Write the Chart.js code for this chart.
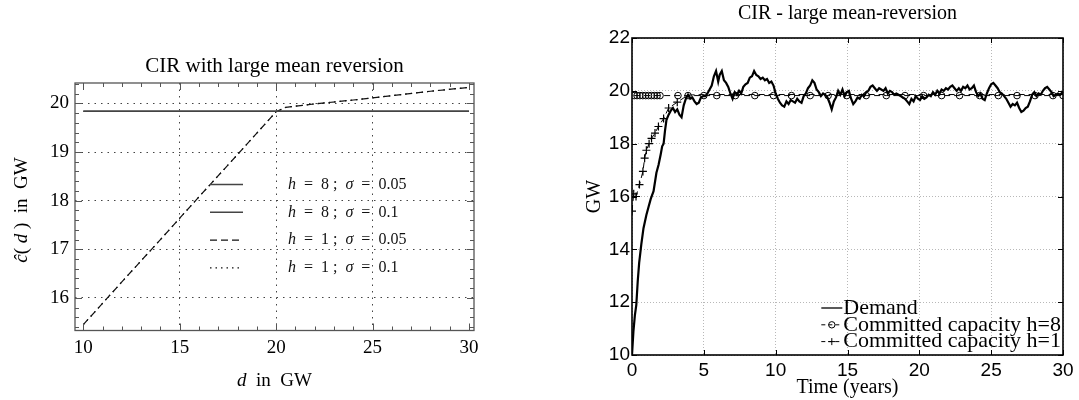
<!DOCTYPE html>
<html>
<head>
<meta charset="utf-8">
<script src="https://cdn.jsdelivr.net/npm/chart.js@4.4.0/dist/chart.umd.min.js"></script>
<style>
  body { margin: 0; background: #fff; }
  #left { position: absolute; left: 0; top: 0; width: 540px; height: 400px; }
  #right { position: absolute; left: 540px; top: 0; width: 539px; height: 400px; }
</style>
</head>
<body>
<div id="left"><canvas id="c1"></canvas></div>
<div id="right"><canvas id="c2"></canvas></div>
<script>
// ---- left panel: capacity rule c(d) ----
var dValues   = [10, 12, 14, 16, 18, 19, 20, 20.5, 22, 24, 26, 28, 30];
var cH8s005   = [19.84, 19.84, 19.84, 19.84, 19.84, 19.84, 19.84, 19.84, 19.84, 19.84, 19.84, 19.84, 19.84];
var cH8s01    = [19.84, 19.84, 19.84, 19.84, 19.84, 19.84, 19.84, 19.84, 19.84, 19.84, 19.84, 19.84, 19.84];
var cH1s005   = [15.45, 16.33, 17.2, 18.08, 18.95, 19.39, 19.83, 19.92, 19.99, 20.07, 20.16, 20.25, 20.33];
var cH1s01    = [15.45, 16.33, 17.2, 18.08, 18.95, 19.39, 19.83, 19.92, 19.99, 20.07, 20.16, 20.25, 20.33];
var leftLabels = ['h  =  8 ;  σ  =  0.05', 'h  =  8 ;  σ  =  0.1', 'h  =  1 ;  σ  =  0.05', 'h  =  1 ;  σ  =  0.1'];
var leftXTicks = [10, 15, 20, 25, 30];
var leftYTicks = [16, 17, 18, 19, 20];

// ---- right panel: simulated path ----
var demandT = [0, 0.1, 0.2, 0.3, 0.4, 0.5, 0.65, 0.8, 1.0, 1.15, 1.3, 1.5, 1.7, 1.85, 2.0, 2.1, 2.2, 2.3, 2.4, 2.55,
  2.7, 2.85, 3.0, 3.15, 3.3, 3.45, 3.6, 3.75, 3.9, 4.05, 4.2, 4.35, 4.5, 4.65, 4.8, 4.95, 5.1, 5.25, 5.4, 5.55,
  5.7, 5.85, 6.0, 6.1, 6.25, 6.4, 6.55, 6.7, 6.85, 7.0, 7.15, 7.3, 7.45, 7.6, 7.75, 7.9, 8.05, 8.2, 8.35, 8.5,
  8.65, 8.8, 8.95, 9.1, 9.25, 9.4, 9.55, 9.7, 9.85, 10.0, 10.15, 10.3, 10.45, 10.6, 10.75, 10.9, 11.05, 11.2, 11.35, 11.5,
  11.65, 11.8, 11.95, 12.1, 12.25, 12.4, 12.55, 12.7, 12.85, 13.0, 13.15, 13.3, 13.45, 13.6, 13.75, 13.9, 14.05, 14.2, 14.35, 14.5,
  14.65, 14.8, 14.95, 15.1, 15.25, 15.4, 15.55, 15.7, 15.85, 16.0, 16.15, 16.3, 16.45, 16.6, 16.75, 16.9, 17.05, 17.2, 17.35, 17.5,
  17.65, 17.8, 17.95, 18.1, 18.25, 18.4, 18.55, 18.7, 18.85, 19.0, 19.15, 19.3, 19.45, 19.6, 19.75, 19.9, 20.05, 20.2, 20.35, 20.5,
  20.65, 20.8, 20.95, 21.1, 21.25, 21.4, 21.55, 21.7, 21.85, 22.0, 22.15, 22.3, 22.45, 22.6, 22.75, 22.9, 23.05, 23.2, 23.35, 23.5,
  23.65, 23.8, 23.95, 24.1, 24.25, 24.4, 24.55, 24.7, 24.85, 25.0, 25.15, 25.3, 25.45, 25.6, 25.75, 25.9, 26.05, 26.2, 26.35, 26.5,
  26.65, 26.8, 26.95, 27.1, 27.25, 27.4, 27.55, 27.7, 27.85, 28.0, 28.15, 28.3, 28.45, 28.6, 28.75, 28.9, 29.05, 29.2, 29.35, 29.5,
  29.65, 29.8, 30.0];
var demandGW = [10.0, 10.9, 11.5, 11.9, 12.8, 13.5, 14.2, 14.8, 15.3, 15.6, 15.9, 16.2, 16.9, 17.2, 17.6, 17.9, 18.0, 18.5, 18.9, 19.1,
  19.25, 19.35, 19.2, 19.3, 19.1, 19.0, 19.45, 19.7, 19.85, 19.7, 19.75, 19.6, 19.5, 19.55, 19.75, 19.8, 19.8, 19.9, 20.05, 20.2,
  20.55, 20.75, 20.35, 20.6, 20.75, 20.4, 20.3, 20.15, 19.9, 19.7, 19.95, 19.85, 20.0, 19.9, 20.15, 20.25, 20.3, 20.5, 20.55, 20.75,
  20.6, 20.55, 20.45, 20.5, 20.4, 20.45, 20.3, 20.35, 20.2, 19.9, 19.7, 19.55, 19.45, 19.4, 19.6, 19.5, 19.65, 19.6, 19.55, 19.7,
  19.6, 19.55, 19.8, 19.9, 20.1, 20.2, 20.4, 20.3, 20.05, 19.95, 19.8, 19.9, 19.85, 19.75, 19.55, 19.3, 19.6, 19.75, 20.0, 19.85,
  20.05, 19.8, 19.95, 20.0, 19.7, 19.5, 19.6, 19.75, 19.7, 19.85, 19.8, 19.95, 20.0, 20.15, 20.2, 20.1, 20.0, 20.1, 20.05, 20.0,
  20.1, 19.9, 20.0, 19.95, 19.85, 19.9, 19.85, 19.8, 19.75, 19.7, 19.6, 19.5, 19.7, 19.6, 19.8, 19.7, 19.65, 19.8, 19.7, 19.75,
  19.85, 19.8, 19.95, 19.85, 20.0, 19.9, 20.05, 20.0, 20.1, 20.05, 20.15, 20.2, 20.1, 20.0, 20.1, 20.0, 20.15, 20.1, 20.2, 20.05,
  20.1, 20.2, 19.95, 19.8, 19.9, 19.7, 19.65, 19.9, 20.1, 20.25, 20.3, 20.2, 20.1, 19.95, 19.9, 19.8, 19.7, 19.55, 19.4, 19.5,
  19.45, 19.55, 19.35, 19.2, 19.25, 19.35, 19.4, 19.6, 19.85, 19.95, 19.8, 19.9, 19.85, 20.0, 20.1, 20.15, 20.05, 19.95, 19.8, 19.85,
  19.9, 19.85, 19.95];
var capH8T  = [0.15, 0.35, 0.55, 0.75, 0.95, 1.15, 1.35, 1.55, 1.75, 1.95, 3.2, 3.9, 5.0, 5.9, 7.2, 8.55, 9.85, 11.1, 12.4, 13.65,
  14.95, 16.3, 17.7, 19.0, 20.3, 21.55, 22.8, 24.2, 25.5, 26.8, 28.05, 29.3, 30.0];
var capH8GW = [19.82, 19.82, 19.82, 19.82, 19.82, 19.82, 19.82, 19.82, 19.82, 19.82, 19.82, 19.82, 19.82, 19.82, 19.82, 19.82, 19.82, 19.82, 19.82, 19.82,
  19.82, 19.82, 19.82, 19.82, 19.82, 19.82, 19.82, 19.82, 19.82, 19.82, 19.82, 19.82, 19.82];
var capH1T  = [0, 0.12, 0.28, 0.52, 0.76, 0.88, 1.0, 1.19, 1.36, 1.6, 1.84, 2.2, 2.55, 3.15, 3.9, 5.0, 7.2, 9.85, 12.4, 14.95,
  17.7, 20.3, 22.8, 25.5, 28.05, 30.0];
var capH1GW = [15.45, 16.1, 16.0, 16.45, 16.95, 17.45, 17.75, 18.0, 18.2, 18.4, 18.65, 18.95, 19.35, 19.57, 19.84, 19.86, 19.86, 19.86, 19.86, 19.86,
  19.86, 19.86, 19.86, 19.86, 19.86, 19.86];
var capH1Marked = 14;
var rightLabels = ['Demand', 'Committed capacity h=8', 'Committed capacity h=1'];
var rightXTicks = [0, 5, 10, 15, 20, 25, 30];
var rightYTicks = [10, 12, 14, 16, 18, 20, 22];

function pairs(xs, ys) {
  return xs.map(function (x, i) { return { x: x, y: ys[i] }; });
}

function tickMarks(chart, axis, values, len, color) {
  var a = chart.chartArea, ctx = chart.ctx, s = chart.scales[axis];
  ctx.save();
  ctx.strokeStyle = color;
  ctx.lineWidth = 1;
  ctx.beginPath();
  values.forEach(function (v) {
    var p = Math.round(s.getPixelForValue(v)) + 0.5;
    if (axis === 'x') {
      ctx.moveTo(p, a.bottom); ctx.lineTo(p, a.bottom - len);
      ctx.moveTo(p, a.top); ctx.lineTo(p, a.top + len);
    } else {
      ctx.moveTo(a.left, p); ctx.lineTo(a.left + len, p);
      ctx.moveTo(a.right, p); ctx.lineTo(a.right - len, p);
    }
  });
  ctx.stroke();
  ctx.restore();
}

// text with italic symbols (h, σ, d, ĉ)
function drawMixed(ctx, text, italicChars, size, x, y, align) {
  var parts = [];
  for (var i = 0; i < text.length; i++) {
    var it = italicChars.indexOf(text[i]) >= 0;
    if (parts.length && parts[parts.length - 1].it === it) parts[parts.length - 1].t += text[i];
    else parts.push({ t: text[i], it: it });
  }
  var total = 0;
  parts.forEach(function (p) {
    ctx.font = (p.it ? 'italic ' : '') + size + 'px "Liberation Serif"';
    p.w = ctx.measureText(p.t).width;
    total += p.w;
  });
  var cx = align === 'center' ? x - total / 2 : x;
  ctx.textBaseline = 'middle';
  ctx.textAlign = 'left';
  parts.forEach(function (p) {
    ctx.font = (p.it ? 'italic ' : '') + size + 'px "Liberation Serif"';
    ctx.fillText(p.t, cx, y);
    cx += p.w;
  });
}

var leftDecor = {
  id: 'leftDecor',
  afterDatasetsDraw: function (chart) {
    var ctx = chart.ctx, a = chart.chartArea;
    var minorX = [], minorY = [];
    for (var v = 10; v <= 30; v += 1) if (v % 5) minorX.push(v);
    for (var k = 77; k <= 102; k++) if (k % 5) minorY.push(k / 5);
    tickMarks(chart, 'x', leftXTicks, 7, '#555');
    tickMarks(chart, 'x', minorX, 4, '#555');
    tickMarks(chart, 'y', leftYTicks, 7, '#555');
    tickMarks(chart, 'y', minorY, 4, '#555');
    ctx.save();
    ctx.strokeStyle = '#555';
    ctx.lineWidth = 1.3;
    ctx.strokeRect(a.left, a.top, a.right - a.left, a.bottom - a.top);
    // legend inside the plot
    ctx.fillStyle = '#111';
    chart.data.datasets.forEach(function (ds, i) {
      var y = 184.5 + i * 27.8;
      ctx.strokeStyle = ds.borderColor;
      ctx.lineWidth = ds.borderWidth;
      ctx.setLineDash(ds.borderDash || []);
      ctx.beginPath(); ctx.moveTo(210, y); ctx.lineTo(243, y); ctx.stroke();
      ctx.setLineDash([]);
      drawMixed(ctx, leftLabels[i], 'hσ', 16, 288, y, 'left');
    });
    // axis titles
    ctx.fillStyle = '#000';
    drawMixed(ctx, 'd  in  GW', 'd', 19, (a.left + a.right) / 2, 381, 'center');
    ctx.translate(22, 210);
    ctx.rotate(-Math.PI / 2);
    drawMixed(ctx, 'ĉ( d )  in  GW', 'ĉd', 19, 0, 0, 'center');
    ctx.restore();
  }
};

new Chart(document.getElementById('c1'), {
  type: 'line',
  data: {
    datasets: [
      { data: pairs(dValues, cH8s005), borderColor: '#444', borderWidth: 1.6, pointRadius: 0 },
      { data: pairs(dValues, cH8s01), borderColor: '#444', borderWidth: 1.6, pointRadius: 0 },
      { data: pairs(dValues, cH1s005), borderColor: '#111', borderWidth: 1.2, borderDash: [7, 4], pointRadius: 0 },
      { data: pairs(dValues, cH1s01), borderColor: '#111', borderWidth: 1.2, borderDash: [1.5, 4], pointRadius: 0 }
    ]
  },
  options: {
    responsive: true,
    maintainAspectRatio: false,
    animation: false,
    layout: { padding: { left: 0, right: 66, top: 0, bottom: 0 } },
    plugins: {
      legend: { display: false },
      tooltip: { enabled: false },
      title: {
        display: true,
        fullSize: false,
        text: 'CIR with large mean reversion',
        color: '#000',
        font: { family: 'Liberation Serif', size: 21, weight: 'normal' },
        padding: { top: 53.4, bottom: 4.4 }
      }
    },
    scales: {
      x: {
        type: 'linear', min: 9.57, max: 30.26,
        afterBuildTicks: function (s) { s.ticks = leftXTicks.map(function (v) { return { value: v }; }); },
        afterFit: function (s) { s.height = 69.5; },
        ticks: { color: '#000', padding: 6, maxRotation: 0, font: { family: 'Liberation Serif', size: 19 } },
        grid: {
          drawTicks: false,
          color: function (c) { return (c.tick && (c.tick.value === 10 || c.tick.value === 30)) ? 'rgba(0,0,0,0)' : '#444'; }
        },
        border: { display: false, dash: [1.5, 5] }
      },
      y: {
        type: 'linear', min: 15.33, max: 20.42,
        afterBuildTicks: function (s) { s.ticks = leftYTicks.map(function (v) { return { value: v }; }); },
        afterFit: function (s) { s.width = 75; },
        ticks: { color: '#000', padding: 6, font: { family: 'Liberation Serif', size: 19 } },
        grid: { drawTicks: false, color: '#444' },
        border: { display: false, dash: [1.5, 5] }
      }
    }
  },
  plugins: [leftDecor]
});

var rightDecor = {
  id: 'rightDecor',
  afterDatasetsDraw: function (chart) {
    var ctx = chart.ctx, a = chart.chartArea;
    tickMarks(chart, 'x', rightXTicks, 5, '#000');
    tickMarks(chart, 'y', rightYTicks, 5, '#000');
    ctx.save();
    ctx.strokeStyle = '#000';
    ctx.lineWidth = 1.6;
    ctx.strokeRect(a.left, a.top, a.right - a.left, a.bottom - a.top);
    // legend, bottom right
    ctx.font = '22px "Liberation Serif"';
    var tw = 0;
    rightLabels.forEach(function (t) { tw = Math.max(tw, ctx.measureText(t).width); });
    var tx = a.right - tw - 2, sx0 = tx - 22, sx1 = tx - 1;
    chart.data.datasets.forEach(function (ds, i) {
      var y = 308 + i * 16.8;
      ctx.strokeStyle = '#000';
      ctx.lineWidth = ds.borderWidth > 1.5 ? 1.3 : 1;
      ctx.setLineDash(ds.borderDash ? [4, 3] : []);
      ctx.beginPath(); ctx.moveTo(sx0, y); ctx.lineTo(sx1, y); ctx.stroke();
      ctx.setLineDash([]);
      var mx = (sx0 + sx1) / 2;
      if (ds.pointStyle === 'circle') {
        ctx.beginPath(); ctx.arc(mx, y, 3.2, 0, Math.PI * 2); ctx.stroke();
      } else if (ds.pointStyle === 'cross') {
        ctx.beginPath(); ctx.moveTo(mx - 3.5, y); ctx.lineTo(mx + 3.5, y); ctx.moveTo(mx, y - 3.5); ctx.lineTo(mx, y + 3.5); ctx.stroke();
      }
      ctx.font = '22px "Liberation Serif"';
      ctx.fillStyle = '#000';
      ctx.textAlign = 'left';
      ctx.textBaseline = 'middle';
      ctx.fillText(rightLabels[i], tx, y);
    });
    ctx.restore();
  }
};

new Chart(document.getElementById('c2'), {
  type: 'line',
  data: {
    datasets: [
      { data: pairs(demandT, demandGW), borderColor: '#000', borderWidth: 2.2, pointRadius: 0 },
      { data: pairs(capH8T, capH8GW), borderColor: '#000', borderWidth: 1, borderDash: [6, 4],
        pointStyle: 'circle', pointRadius: 3.3, pointBorderWidth: 1, pointBorderColor: '#000', pointBackgroundColor: 'rgba(0,0,0,0)' },
      { data: pairs(capH1T, capH1GW), borderColor: '#000', borderWidth: 1, borderDash: [6, 4],
        pointStyle: 'cross', pointBorderWidth: 1.2, pointBorderColor: '#000',
        pointRadius: function (c) { return c.dataIndex < capH1Marked ? 4 : 0; } }
    ]
  },
  options: {
    responsive: true,
    maintainAspectRatio: false,
    animation: false,
    layout: { padding: { left: 0, right: 16, top: 0, bottom: 0 } },
    plugins: {
      legend: { display: false },
      tooltip: { enabled: false },
      title: {
        display: true,
        fullSize: false,
        text: 'CIR - large mean-reversion',
        color: '#000',
        font: { family: 'Liberation Serif', size: 20, weight: 'normal' },
        padding: { top: 2, bottom: 12 }
      }
    },
    scales: {
      x: {
        type: 'linear', min: 0, max: 30,
        afterBuildTicks: function (s) { s.ticks = rightXTicks.map(function (v) { return { value: v }; }); },
        afterFit: function (s) { s.height = 45; },
        ticks: { color: '#000', padding: 4, maxRotation: 0, font: { family: 'Liberation Sans', size: 19 } },
        grid: { drawTicks: false, color: '#b8b8b8' },
        border: { display: false, dash: [1, 2] },
        title: { display: true, text: 'Time (years)', color: '#000', padding: { top: 0, bottom: 0 },
          font: { family: 'Liberation Serif', size: 20 } }
      },
      y: {
        type: 'linear', min: 10, max: 22,
        afterBuildTicks: function (s) { s.ticks = rightYTicks.map(function (v) { return { value: v }; }); },
        afterFit: function (s) { s.width = 92; },
        ticks: { color: '#000', padding: 2, font: { family: 'Liberation Sans', size: 19 } },
        grid: { drawTicks: false, color: '#b8b8b8' },
        border: { display: false, dash: [1, 2] },
        title: { display: true, text: 'GW', color: '#000', padding: { top: 43, bottom: 0 },
          font: { family: 'Liberation Serif', size: 20 } }
      }
    }
  },
  plugins: [rightDecor]
});
</script>
</body>
</html>
